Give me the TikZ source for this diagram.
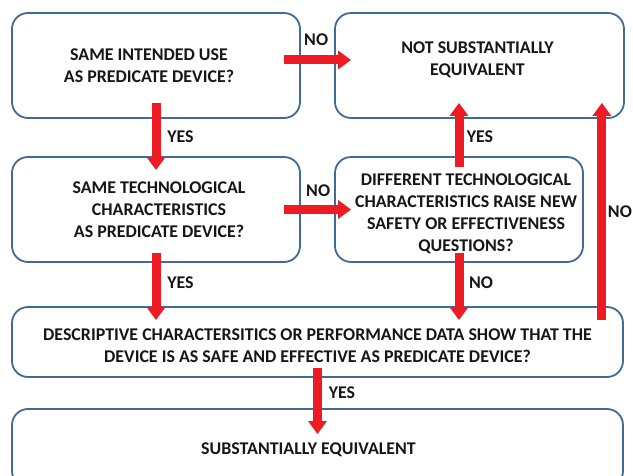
\documentclass[tikz,border=0pt]{standalone}
\usepackage{fontspec}
\setmainfont{Carlito}
\usetikzlibrary{arrows.meta,calc}
\definecolor{boxblue}{RGB}{66,106,150}
\definecolor{arrred}{RGB}{237,28,36}
\definecolor{txt}{RGB}{22,22,22}
\tikzset{
  box/.style={draw=boxblue, line width=1.8pt, rounded corners=16pt, fill=white, inner sep=0pt},
  boxtext/.style={font=\bfseries\fontsize{17.9}{22}\selectfont, text=txt, align=center, inner sep=0pt},
  arr/.style={draw=arrred, line width=9pt, -{Triangle[length=13pt,width=18pt]}},
  lbl/.style={font=\bfseries\fontsize{17.9}{20}\selectfont, text=txt, inner sep=0pt},
}
\begin{document}
\begin{tikzpicture}[x=1pt,y=-1pt]
\useasboundingbox (0,0) rectangle (633,476);
\clip (0,0) rectangle (633,476);
% boxes
\node[box, minimum width=288pt, minimum height=105pt,
  label={[boxtext, xshift=-7pt]center:{SAME INTENDED USE\\AS PREDICATE DEVICE?}}] (b1) at (156,65.5) {};
\node[box, minimum width=289pt, minimum height=105pt,
  label={[boxtext, xshift=-2pt, yshift=5.5pt]center:{NOT SUBSTANTIALLY\\EQUIVALENT}}] (b2) at (479.5,65.5) {};
\node[box, minimum width=288pt, minimum height=105pt,
  label={[boxtext, xshift=3pt]center:{SAME TECHNOLOGICAL\\CHARACTERISTICS\\AS PREDICATE DEVICE?}}] (b3) at (156,209.5) {};
\node[box, minimum width=248pt, minimum height=105pt,
  label={[boxtext, xshift=7pt, yshift=-4pt]center:{DIFFERENT TECHNOLOGICAL\\CHARACTERISTICS RAISE NEW\\SAFETY OR EFFECTIVENESS\\QUESTIONS?}}] (b4) at (459,209.5) {};
\node[box, minimum width=611pt, minimum height=70pt,
  label={[boxtext, yshift=-3.5pt]center:{DESCRIPTIVE CHARACTERSITICS OR PERFORMANCE DATA SHOW THAT THE\\DEVICE IS AS SAFE AND EFFECTIVE AS PREDICATE DEVICE?}}] (b5) at (317.5,342) {};
\node[box, minimum width=611pt, minimum height=78pt,
  label={[boxtext, xshift=-9pt, yshift=-2pt]center:{SUBSTANTIALLY EQUIVALENT}}] (b6) at (317.5,448) {};
% helper coordinate for right-hand return arrow
\coordinate (c1) at ([xshift=-23pt]b2.south east);
% connectors
\draw[arr] ([xshift=-17pt,yshift=5.5pt]b1.east) -- ([xshift=17pt,yshift=5.5pt]b2.west)
  node[lbl, pos=0.48, yshift=20pt] {NO};
\draw[arr] ([yshift=16pt]b1.south) -- ([yshift=-14pt]b3.north)
  node[lbl, pos=0.51, xshift=24.5pt] {YES};
\draw[arr] ([yshift=-11pt]b4.north) -- ([yshift=16pt]b2.south -| b4.north)
  node[lbl, pos=0.47, xshift=21pt] {YES};
\draw[arr] ([xshift=-17pt]b3.east) -- ([xshift=17pt]b4.west)
  node[lbl, pos=0.51, yshift=18.5pt] {NO};
\draw[arr] ([yshift=-14pt]b5.north -| c1) -- ([yshift=16pt]c1)
  node[lbl, pos=0.5, xshift=18pt] {NO};
\draw[arr] ([yshift=10pt]b3.south) -- ([yshift=-14pt]b5.north -| b3.south)
  node[lbl, pos=0.45, xshift=24.5pt] {YES};
\draw[arr] ([yshift=10pt]b4.south) -- ([yshift=-14pt]b5.north -| b4.south)
  node[lbl, pos=0.45, xshift=22pt] {NO};
\draw[arr] ([yshift=10pt]b5.south) -- ([yshift=-26pt]b6.north)
  node[lbl, pos=0.37, xshift=24.5pt] {YES};
\end{tikzpicture}
\end{document}
